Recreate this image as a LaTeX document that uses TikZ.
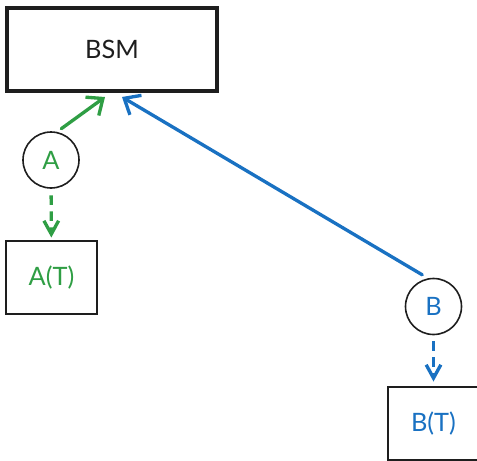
\documentclass[tikz,border=0pt]{standalone}
\usepackage{fontspec}
\setmainfont{Lato}
\usetikzlibrary{arrows.meta}
\definecolor{dgreen}{HTML}{2F9E44}
\definecolor{dblue}{HTML}{1971C2}
\definecolor{ink}{HTML}{1E1E1E}
\tikzset{t/.style={font=\fontsize{19}{22}\selectfont}}
\tikzset{blk/.style={draw=ink,line width=2.8pt,minimum width=157.5pt,minimum height=62.25pt,inner sep=0pt}}
\tikzset{box/.style={draw=ink,line width=1.2pt,minimum width=68.25pt,minimum height=54.75pt,inner sep=0pt}}
\tikzset{ring/.style={draw=ink,circle,line width=1.2pt,minimum size=42pt,inner sep=0pt}}
\tikzset{to/.style={line width=2.5pt,line cap=round,-{Straight Barb[length=10pt,width=17pt,line width=2.5pt]}}}
\tikzset{dto/.style={line width=2.5pt,dash pattern=on 7pt off 5pt,-{Straight Barb[length=10pt,width=11pt,line width=2.5pt]}}}

\begin{document}
\begin{tikzpicture}[x=0.75pt,y=-0.75pt]
        \useasboundingbox (0,0) rectangle (477,460);
        \clip (0,0) rectangle (477,460);
        \node[blk,t,text=ink] (bsm) at (112,49.5) {BSM};
        \node[ring,t,text=dgreen] (a) at (51,160) {A};
        \node[box,t,text=dgreen] (at) at (51.5,277.5) {A(T)};
        \node[ring,t,text=dblue] (b) at (433.5,306.5) {B};
        \node[box,t,text=dblue] (bt) at (433.5,423.5) {B(T)};
        % arrow tips under BSM
        \coordinate (tipa) at (105,97);
        \coordinate (tipb) at (122,97);
        \draw[to,dgreen,shorten <=4pt] (a.78) -- (tipa);
        \draw[to,dblue,shorten <=5pt] (b.101) -- (tipb);
        \draw[dto,dgreen,shorten <=5pt,shorten >=2pt] (a) -- (at);
        \draw[dto,dblue,shorten <=4.5pt,shorten >=3.5pt] (b) -- (bt);
      \end{tikzpicture}
\end{document}
